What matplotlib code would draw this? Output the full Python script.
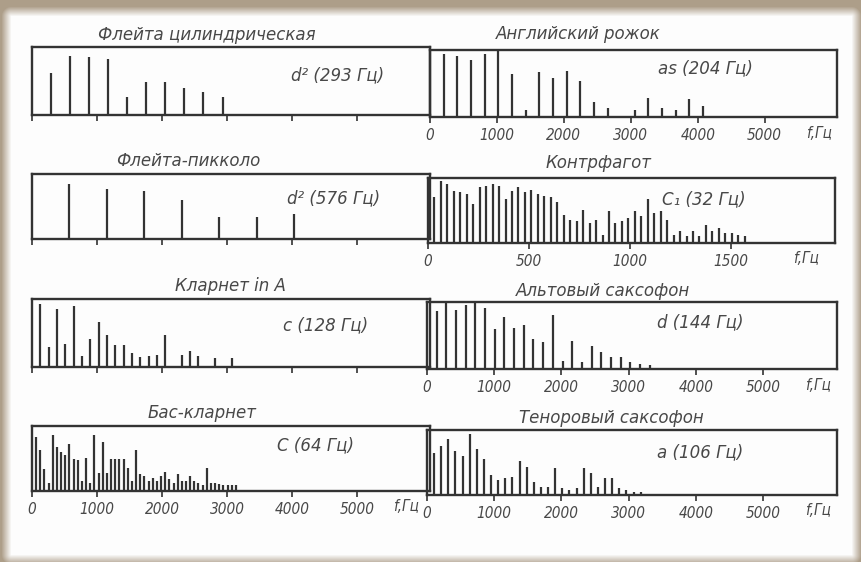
import numpy as np
import matplotlib.pyplot as plt

# Spectra of wind instruments: harmonic amplitudes
# (units = pixels above the baseline, each box is about 66 units tall)
flute_f0 = 293
flute_amp = [41, 57, 56, 54, 17, 32, 32, 26, 22, 17]

horn_f0 = 204
horn_amp = [62, 60, 56, 62, 65, 42, 7, 44, 38, 45, 35, 15, 9, 0, 7, 19, 9, 7, 18, 11]

piccolo_f0 = 576
piccolo_amp = [56, 51, 49, 40, 22, 22, 25]

cbassoon_f0 = 32
cbassoon_amp = [47, 63, 60, 53, 52, 50, 40, 57, 58, 60, 58, 45, 53, 57, 52, 54, 50,
                48, 47, 42, 28, 23, 22, 34, 20, 23, 8, 32, 20, 22, 25, 33, 27, 45,
                30, 32, 23, 8, 12, 7, 12, 7, 18, 12, 15, 10, 10, 8, 7]

clarinet_f0 = 128
clarinet_amp = [61, 19, 56, 22, 59, 11, 27, 44, 31, 21, 21, 14, 10, 11, 12, 31, 0,
                12, 16, 11, 0, 9, 0, 9]

alto_f0 = 144
alto_amp = [57, 65, 58, 63, 65, 60, 39, 51, 40, 43, 30, 27, 53, 8, 28, 7, 23, 17,
            12, 12, 7, 5, 4]

bass_cl_f0 = 64
bass_cl_amp = [55, 42, 22, 8, 57, 45, 40, 37, 48, 32, 31, 10, 34, 8, 57, 18, 50, 18,
               33, 33, 33, 32, 23, 10, 42, 17, 15, 10, 13, 10, 15, 19, 12, 8, 17, 10,
               10, 15, 10, 8, 6, 23, 8, 8, 7, 6, 6, 6, 6]

tenor_f0 = 106
tenor_amp = [43, 50, 57, 45, 40, 62, 47, 37, 20, 15, 17, 18, 35, 28, 13, 8, 8, 27,
             7, 5, 7, 27, 22, 8, 17, 17, 7, 5, 3, 3]

khz_ticks = [0, 1000, 2000, 3000, 4000, 5000]
khz_labels = ["0", "1000", "2000", "3000", "4000", "5000"]
cb_ticks = [0, 500, 1000, 1500]
cb_labels = ["0", "500", "1000", "1500"]

W, H = 862, 562
ink = "#333333"
txt = "#484848"
font = ["DejaVu Sans"]

fig = plt.figure(figsize=(W / 100, H / 100), dpi=100)

# scanned-page background with a tan border
bg = fig.add_axes([0, 0, 1, 1], zorder=-10)
yy, xx = np.mgrid[0:H, 0:W]
dx = np.maximum.reduce([11 - xx, xx - 851, np.zeros_like(xx)])
dy = np.maximum.reduce([16 - yy, yy - 554, np.zeros_like(yy)])
t = np.clip(np.hypot(dx, dy) / 10.0, 0, 1)[..., None]
paper = np.array([0.995, 0.995, 0.995])
tan = np.array([0.68, 0.62, 0.54])
bg.imshow(paper * (1 - t) + tan * t, aspect="auto", interpolation="bilinear")
bg.axis("off")


def panel(box, title, title_xy, note, note_xy, f0, amps, xmax, ticks, labels, f_x):
    x0, y0, x1, y1 = box
    ax = fig.add_axes([x0 / W, 1 - y1 / H, (x1 - x0) / W, (y1 - y0) / H])
    freqs = f0 * np.arange(1, len(amps) + 1)
    ax.vlines(freqs, 0, amps, color=ink, lw=1.6)
    ax.set_xlim(0, xmax)
    ax.set_ylim(0, 66)
    ax.set_yticks([])
    ax.set_xticks(ticks)
    ax.tick_params(axis="x", direction="out", length=4, width=1.2, color=ink, pad=4)
    if labels:
        ax.set_xticklabels(labels, family=font, style="italic", stretch="condensed",
                           fontsize=11, color=txt)
        ax.text(f_x, -0.13, "f,Гц", transform=ax.transAxes, family=font,
                style="italic", stretch="condensed", fontsize=11, color=txt,
                ha="center", va="top")
    else:
        ax.set_xticklabels([])
    for s in ax.spines.values():
        s.set_color(ink)
        s.set_linewidth(1.7)
    ax.set_facecolor("none")
    fig.text(title_xy[0] / W, 1 - title_xy[1] / H, title, family=font,
             style="italic", fontsize=12, color=txt, ha="center", va="center")
    ax.text(note_xy[0], note_xy[1], note, transform=ax.transAxes, family=font,
            style="italic", fontsize=12, color=txt, ha="left", va="center")
    return ax


# left column
panel((32, 47, 430, 115), "Флейта цилиндрическая", (207, 35), "d² (293 Гц)",
      (0.65, 0.59), flute_f0, flute_amp, 6120, khz_ticks, None, 0)
panel((32, 174, 430, 239), "Флейта-пикколо", (188, 161), "d² (576 Гц)",
      (0.64, 0.63), piccolo_f0, piccolo_amp, 6120, khz_ticks, None, 0)
panel((32, 299, 430, 367), "Кларнет in A", (230, 286), "c (128 Гц)",
      (0.63, 0.62), clarinet_f0, clarinet_amp, 6120, khz_ticks, None, 0)
panel((32, 426, 430, 491), "Бас-кларнет", (202, 413), "C (64 Гц)",
      (0.615, 0.71), bass_cl_f0, bass_cl_amp, 6120, khz_ticks, khz_labels, 0.94)

# right column
panel((430, 50, 837, 117), "Английский рожок", (578, 34), "as (204 Гц)",
      (0.56, 0.72), horn_f0, horn_amp, 6080, khz_ticks, khz_labels, 0.955)
panel((428, 178, 835, 243), "Контрфагот", (598, 163), "C₁ (32 Гц)",
      (0.575, 0.68), cbassoon_f0, cbassoon_amp, 2015, cb_ticks, cb_labels, 0.93)
panel((427, 302, 837, 369), "Альтовый саксофон", (603, 291), "d (144 Гц)",
      (0.56, 0.69), alto_f0, alto_amp, 6100, khz_ticks, khz_labels, 0.955)
panel((427, 430, 837, 495), "Теноровый саксофон", (611, 418), "a (106 Гц)",
      (0.56, 0.65), tenor_f0, tenor_amp, 6100, khz_ticks, khz_labels, 0.955)

fig.savefig("out.png", dpi=100)
